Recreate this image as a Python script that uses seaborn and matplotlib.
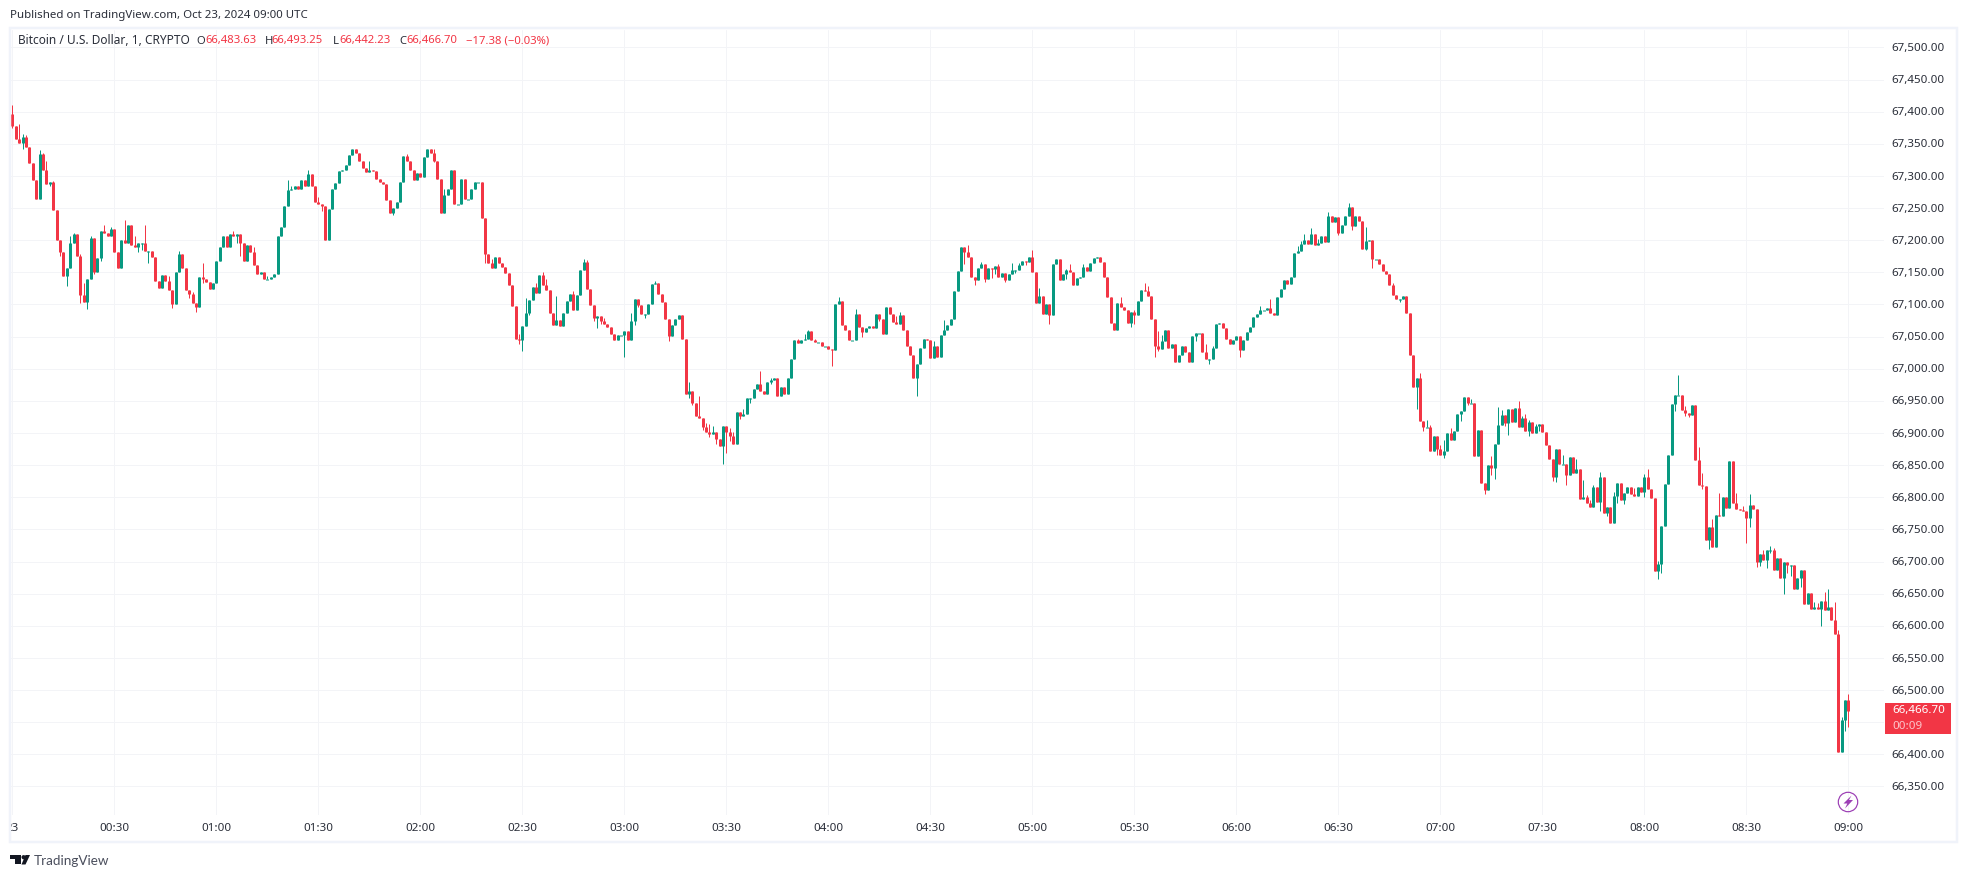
import numpy as np
import pandas as pd
import seaborn as sns
import matplotlib
matplotlib.use("Agg")
import matplotlib.pyplot as plt
from matplotlib.patches import Rectangle, Circle, Polygon
from matplotlib.transforms import Bbox, ScaledTranslation

# ---------- data (BTC/USD, 1 minute candles) ----------
first_open = 67396
closes = [
67377,67357,67351,67360,67345,67320,67293,67264,67334,67309,67287,67290,67247,67201,67181,67145,67156,67196,67209,67176,
67114,67104,67139,67204,67151,67173,67214,67212,67206,67218,67181,67156,67201,67196,67224,67192,67189,67196,67196,67184,
67184,67174,67137,67126,67146,67137,67123,67100,67151,67179,67156,67123,67117,67103,67096,67142,67140,67135,67124,67134,
67168,67189,67206,67190,67210,67207,67210,67195,67168,67193,67181,67162,67148,67150,67140,67140,67142,67148,67206,67221,
67253,67278,67279,67284,67279,67293,67284,67303,67285,67260,67257,67253,67201,67248,67279,67289,67307,67310,67317,67332,
67342,67335,67324,67313,67306,67309,67307,67295,67290,67287,67262,67242,67250,67260,67290,67331,67323,67310,67293,67304,
67298,67329,67342,67335,67324,67295,67242,67270,67279,67310,67256,67257,67296,67264,67264,67279,67290,67290,67235,67179,
67164,67156,67174,67164,
67158,67149,67130,67097,67046,67044,67066,67086,67107,67127,67118,67146,67130,67122,67086,67068,67076,67066,67086,67105,
67116,67091,67115,67154,67166,67124,67099,67079,67082,67074,67069,67065,67054,67044,67052,67052,67058,67044,67074,67108,
67099,67085,67085,67101,67132,67133,67116,67104,67077,67051,67068,67077,67083,67046,66960,66965,66946,66927,66924,66910,
66902,66899,66902,66891,66879,66911,66902,66896,66883,66932,66926,66929,66954,66955,66968,66977,66965,66961,66980,66982,
66985,66958,66971,66961,66985,67015,67044,67040,67044,67046,67058,67044,67041,67041,67036,67036,67030,67029,67101,67105,
67068,67061,67044,67044,67085,67065,67057,67063,67066,67063,67085,67077,67054,67096,67085,67072,67069,67083,67060,67035,
67021,66985,67007,67032,67046,67044,67016,67035,67018,67052,67061,67068,67077,67121,67152,67190,67182,67174,67143,67138,
67157,67163,67140,67157,
67155,67160,67143,67149,67138,67147,67154,67154,67161,67168,67166,67174,67151,67102,67113,67085,67101,67083,67163,67171,
67138,67147,67154,67151,67130,67141,67143,67158,67152,67165,67172,67174,67166,67143,67111,67071,67061,67102,67096,67091,
67071,67088,67083,67105,67122,67121,67113,67077,67036,67030,67043,67061,67033,67038,67010,67021,67035,67026,67011,67051,
67055,67055,67026,67015,67015,67032,67069,67071,67063,67047,67038,67044,67051,67029,67044,67057,67065,67080,67085,67091,
67091,67094,67086,67083,67111,67124,67138,67132,67143,67180,67183,67194,67201,67194,67210,67193,67196,67207,67197,67238,
67229,67236,67211,67224,67238,67251,67222,67238,67230,67186,67199,67201,67171,67171,67163,67152,67147,67130,67115,67108,
67108,67113,67086,67021,66972,
66985,66919,66909,66909,66872,66895,66875,66866,66872,66900,66889,66903,66929,66934,66956,66947,66947,66864,66905,66822,
66811,66850,66845,66883,66912,66928,66915,66937,66917,66939,66909,66923,66903,66917,66900,66911,66914,66901,66881,66859,
66831,66875,66852,66852,66834,66862,66838,66844,66797,66800,66791,66785,66816,66792,66831,66775,66785,66760,66802,66822,
66796,66806,66816,66805,66802,66816,66808,66831,66813,66799,66685,66696,66755,66820,66866,66945,66959,66959,66936,66931,
66928,66943,66858,66819,66817,66733,66753,66722,66772,66771,66800,66783,66856,66791,66782,66780,66778,66767,66788,66782,
66699,66711,66702,66718,66718,66687,66705,66674,66699,66694,66694,66658,66674,66687,66634,66651,66626,66629,66626,66638,
66624,66629,66609,66587,66403,66453,66484,66466.70,
]
high_wicks = [
(0,67410),(2,67381),(3,67365),(4,67364),(8,67340),(9,67335),(10,67324),(12,67292),(17,67206),(18,67212),(20,67179),
(21,67134),(23,67206),(27,67224),(29,67220),(33,67231),(35,67224),(36,67206),(39,67224),(46,67145),(49,67184),(53,67120),
(56,67165),(65,67215),(71,67190),(75,67145),(81,67293),(82,67285),(87,67309),(90,67268),(105,67324),(116,67334),(124,67342),
(127,67279),(141,67170),(149,67054),(151,67110),(154,67133),(156,67150),(157,67140),(160,67113),(165,67121),(168,67171),
(169,67169),(174,67079),(182,67086),(189,67136),(199,66980),(202,66958),(204,66916),(205,66914),(206,66911),(211,66908),
(212,66902),(215,66938),(220,66996),(223,66985),(231,67047),(233,67054),(234,67060),(236,67047),(243,67111),(245,67063),
(248,67093),(260,67082),(261,67088),(271,67043),(274,67076),(281,67193),(285,67166),(290,67163),(294,67165),(296,67165),
(300,67185),(302,67126),(310,67155),(311,67163),(315,67163),(326,67111),(330,67091),(333,67133),(334,67129),(337,67058),
(338,67053),(351,67038),(353,67035),(367,67097),(370,67108),(378,67191),(379,67199),(380,67210),(382,67219),(384,67202),
(387,67244),(393,67258),(398,67221),(406,67133),(407,67110),(414,66993),(416,66920),(417,66912),(420,66881),(421,66889),
(423,66908),(429,66953),(435,66864),(437,66940),(438,66936),(443,66950),(444,66926),(445,66929),(446,66920),(448,66914),
(456,66866),(460,66859),(462,66827),(463,66803),(464,66795),(465,66819),(467,66839),(471,66808),(477,66814),(480,66836),
(481,66844),(484,66701),(490,66990),(492,66942),(496,66878),(497,66838),(500,66766),(502,66806),(507,66806),(509,66786),
(511,66805),(515,66718),(517,66724),(518,66721),(530,66637),(531,66635),(533,66652),(534,66658),(536,66637),(537,66593),
(538,66458),(540,66493.25),
]
low_wicks = [
(0,67374),(3,67342),(11,67285),(14,67176),(16,67129),(20,67103),(22,67093),(24,67148),(26,67167),(37,67182),(38,67185),
(40,67165),(47,67095),(52,67110),(54,67089),(56,67134),(66,67196),(67,67176),(91,67246),(112,67239),(124,67321),(139,67165),
(149,67038),(150,67027),(152,67083),(171,67074),(172,67063),(173,67069),(180,67018),(183,67068),(184,67096),(186,67079),
(193,67043),(199,66955),(200,66943),(203,66905),(205,66894),(207,66883),(209,66852),(210,66869),(211,66888),(214,66922),
(217,66946),(223,66976),(241,67004),(250,67049),(255,67074),(266,66957),(280,67163),(283,67130),(286,67135),(288,67141),
(289,67147),(292,67135),(295,67149),(298,67161),(305,67069),(310,67140),(329,67065),(330,67069),(336,67019),(337,67027),
(348,67043),(352,67008),(361,67018),(390,67208),(394,67216),(398,67185),(400,67157),(408,67104),(413,66937),(415,66903),
(419,66866),(421,66861),(426,66919),(428,66943),(433,66805),(435,66834),(436,66828),(439,66911),(440,66897),(446,66895),
(449,66903),(453,66825),(454,66824),(457,66819),(467,66778),(469,66771),(472,66791),(474,66790),(480,66800),(484,66673),
(485,66682),(489,66934),(492,66926),(493,66925),(497,66813),(499,66719),(510,66729),(511,66753),(513,66691),(514,66693),
(516,66690),(517,66713),(521,66649),(522,66682),(523,66677),(526,66660),(532,66599),(539,66436),(540,66442.23),
]
price_ticks = list(range(66350, 67501, 50))
hidden_price_label = 66450   # covered by the last-price tag in the reference
time_ticks = list(range(0, 541, 30))
time_labels = ["23","00:30","01:00","01:30","02:00","02:30","03:00","03:30","04:00","04:30",
               "05:00","05:30","06:00","06:30","07:00","07:30","08:00","08:30","09:00"]
header = "Published on TradingView.com, Oct 23, 2024 09:00 UTC"
symbol = "Bitcoin / U.S. Dollar, 1, CRYPTO"
ohlc_texts = [("O","66,483.63"),("H","66,493.25"),("L","66,442.23"),("C","66,466.70")]
change_text = "\u221217.38 (\u22120.03%)"
last_price = "66,466.70"
countdown = "00:09"

# ---------- style ----------
W, H = 1966, 879
RED, GREEN = "#F23645", "#089981"
GRID, BORDER, INK = "#f3f4f7", "#f0f3fa", "#2a2e39"
sns.set_theme(style="white")
plt.rcParams["font.family"] = ["Noto Sans", "DejaVu Sans"]
px = 72 / 100

# ---------- candles as long-form tables ----------
c = np.array(closes, dtype=float)
o = np.r_[first_open, c[:-1]]
hi = np.maximum(o, c)
lo = np.minimum(o, c)
for i, v in high_wicks:
    hi[i] = max(hi[i], v)
for i, v in low_wicks:
    lo[i] = min(lo[i], v)
idx = np.arange(len(c))
direction = np.where(c >= o, "up", "down")
top = np.maximum(o, c)
bot = np.minimum(o, c)
bot = np.where(top - bot < 1.6, top - 1.6, bot)   # flat candles still show a 1px body

def long_form(a, b):
    return pd.DataFrame({
        "minute": np.r_[idx, idx],
        "price": np.r_[a, b],
        "unit": np.r_[idx, idx],
        "direction": np.r_[direction, direction],
    })

fig = plt.figure(figsize=(W / 100, H / 100), dpi=100, facecolor="white")
L, R, T, B = 11, 1884, 31, 816
ax = fig.add_axes([L / W, 1 - B / H, (R - L) / W, (B - T) / H])
pal = {"up": GREEN, "down": RED}
sns.lineplot(data=long_form(lo, hi), x="minute", y="price", hue="direction", units="unit",
             estimator=None, sort=False, palette=pal, legend=False, ax=ax,
             linewidth=1 * px, solid_capstyle="butt")
sns.lineplot(data=long_form(bot, top), x="minute", y="price", hue="direction", units="unit",
             estimator=None, sort=False, palette=pal, legend=False, ax=ax,
             linewidth=3 * px, solid_capstyle="butt")

ax.set_xlim((L - 12.33) / 3.4, (R - 12.33) / 3.4)
ppd = (755.3 - 112.7) / 1000
ax.set_ylim(67400 - (B - 112.7) / ppd, 67400 + (112.7 - T) / ppd)
ax.set_xlabel("")
ax.set_ylabel("")
ax.set_xticks(time_ticks)
ax.set_xticklabels(time_labels)
ax.set_yticks(price_ticks)
ax.set_yticklabels(["" if v == hidden_price_label else f"{v:,.2f}" for v in price_ticks])
ax.yaxis.tick_right()
ax.tick_params(axis="both", length=0, labelsize=11.6 * px, labelcolor=INK)
ax.tick_params(axis="x", pad=7 * px)
ax.tick_params(axis="y", pad=7 * px)
ax.grid(True, color=GRID, linewidth=1 * px)
ax.set_axisbelow(True)
for s in ax.spines.values():
    s.set_visible(False)
first = ax.get_xticklabels()[0]
first.set_clip_on(True)
first.set_clip_box(Bbox([[9.5, 0], [60, H]]))
shift = ScaledTranslation(0, 1.4 / 100, fig.dpi_scale_trans)
for lab in ax.get_yticklabels():
    lab.set_transform(lab.get_transform() + shift)

# ---------- page furniture, in pixel coordinates ----------
ov = fig.add_axes([0, 0, 1, 1], zorder=5)
ov.set_xlim(0, W)
ov.set_ylim(H, 0)
ov.axis("off")
ov.patch.set_alpha(0)
ov.add_patch(Rectangle((9.5, 29), 1947, 814, fill=False, ec=BORDER, lw=2.5 * px))

ov.text(10, 15.5, header, fontsize=11.5 * px, color=INK, va="center", ha="left")
ov.text(18, 41, symbol, fontsize=11.9 * px, color=INK, va="center", ha="left")
for (letter, val), lx, vx in zip(ohlc_texts, [196.5, 264.5, 332.5, 399], [205, 271.5, 339, 406]):
    ov.text(lx, 41, letter, fontsize=11.3 * px, color=INK, va="center", ha="left")
    ov.text(vx, 41, val, fontsize=11.3 * px, color=RED, va="center", ha="left")
ov.text(466, 41, change_text, fontsize=11.3 * px, color=RED, va="center", ha="left")

ov.add_patch(Rectangle((1885, 704), 66, 30.5, fc=RED, ec="none"))
ov.text(1892.5, 711, last_price, fontsize=11.6 * px, color="white", va="center", ha="left", fontweight="semibold")
ov.text(1892.5, 726.8, countdown, fontsize=11.6 * px, color="#fcc6cb", va="center", ha="left")

ov.add_patch(Circle((1848, 803), 9.7, fill=False, ec="#9c3fb5", lw=1.2 * px))
ov.add_patch(Polygon([(1851.5, 796.5), (1843.5, 804.5), (1847.3, 804.5), (1845, 809.5),
                      (1853, 801), (1849, 801)], closed=True, fc="#9c3fb5", ec="none"))

ov.add_patch(Polygon([(10, 856), (21, 856), (21, 865.5), (15, 865.5), (15, 860), (10, 860)], closed=True, fc="#131722", ec="none"))
ov.add_patch(Circle((23.6, 858.2), 2.1, fc="#131722", ec="none"))
ov.add_patch(Polygon([(25.5, 856), (30, 856), (25.5, 865.5), (21.5, 865.5)], closed=True, fc="#131722", ec="none"))
ov.text(34, 861.5, "TradingView", fontsize=13.5 * px, color="#4a4e5c", va="center", ha="left", family=["Lato", "DejaVu Sans"])

fig.savefig("out.png", dpi=100, facecolor="white")
